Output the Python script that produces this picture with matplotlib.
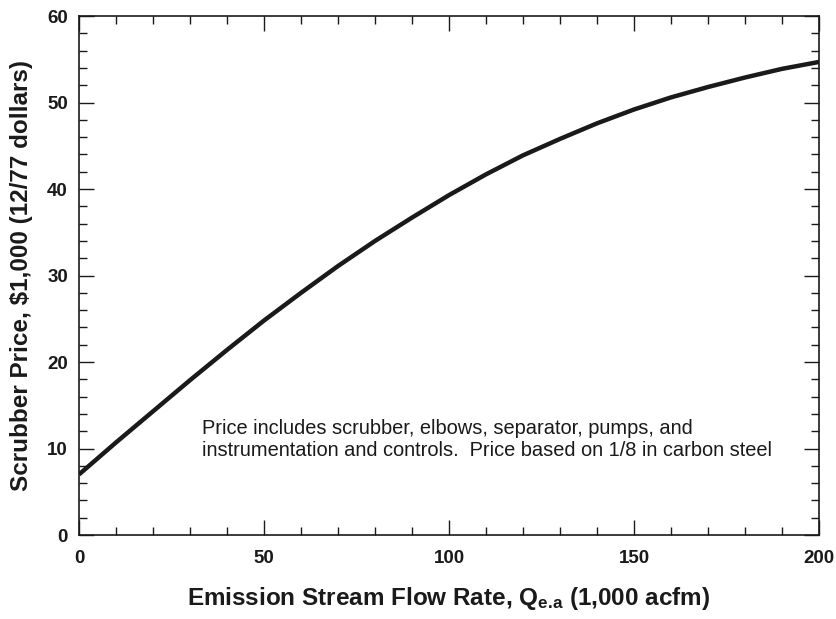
import numpy as np
import matplotlib
matplotlib.use("Agg")
import matplotlib.pyplot as plt
from matplotlib.ticker import MultipleLocator

plt.rcParams['font.family'] = ['Liberation Sans', 'DejaVu Sans']
plt.rcParams['mathtext.fontset'] = 'custom'
plt.rcParams['mathtext.rm'] = 'Liberation Sans:bold'
plt.rcParams['mathtext.bf'] = 'Liberation Sans:bold'
plt.rcParams['mathtext.it'] = 'Liberation Sans:bold'

# flow rate (1,000 acfm) and scrubber price ($1,000)
flow = [0, 10, 20, 30, 40, 50, 60, 70, 80, 90, 100,
        110, 120, 130, 140, 150, 160, 170, 180, 190, 200]
price = [7.0, 10.7, 14.3, 17.9, 21.4, 24.8, 28.0, 31.1, 34.0, 36.7, 39.3,
         41.7, 43.9, 45.8, 47.6, 49.2, 50.6, 51.8, 52.9, 53.9, 54.7]

note = ("Price includes scrubber, elbows, separator, pumps, and\n"
        "instrumentation and controls.  Price based on 1/8 in carbon steel")

fig = plt.figure(figsize=(8.36, 6.19), dpi=100)
ax = fig.add_axes([0.0945, 0.1357, 0.8852, 0.8383])

ax.plot(flow, price, color='#1a1a1a', lw=3.2, solid_capstyle='butt')

ax.set_xlim(0, 200)
ax.set_ylim(0, 60)
ax.xaxis.set_major_locator(MultipleLocator(50))
ax.xaxis.set_minor_locator(MultipleLocator(10))
ax.yaxis.set_major_locator(MultipleLocator(10))
ax.yaxis.set_minor_locator(MultipleLocator(2))
ax.tick_params(which='both', direction='in', top=True, right=True,
               colors='#1a1a1a', width=1.0)
ax.tick_params(which='major', length=11, labelsize=13.5)
ax.tick_params(axis='x', which='major', pad=11)
ax.tick_params(axis='y', which='major', pad=8)
ax.tick_params(which='minor', length=5.5)
for lab in ax.get_xticklabels() + ax.get_yticklabels():
    lab.set_fontweight('bold')
for s in ax.spines.values():
    s.set_linewidth(1.2)
    s.set_color('#1a1a1a')

ax.set_xlabel(r'Emission Stream Flow Rate, Q$_{\mathrm{e.\!a}}$ (1,000 acfm)',
              fontsize=17.5, fontweight='bold', labelpad=13, color='#1a1a1a')
ax.set_ylabel('Scrubber Price, $1,000 (12/77 dollars)',
              fontsize=17.5, fontweight='bold', labelpad=10, color='#1a1a1a')

ax.text(33.2, 11.0, note, fontsize=14.4, ha='left', va='center',
        color='#1a1a1a', linespacing=1.2)

fig.savefig('out.png', dpi=100)
